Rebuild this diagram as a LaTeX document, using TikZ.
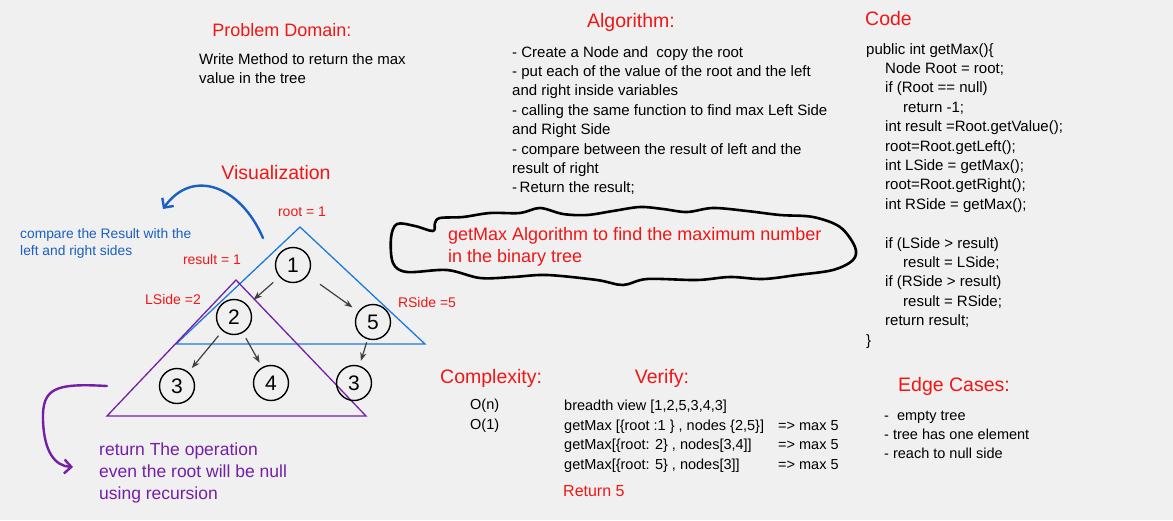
\documentclass[tikz,border=0pt]{standalone}
\usepackage{fontspec}
\setmainfont{Liberation Sans}
\usetikzlibrary{arrows.meta}
\definecolor{bgcol}{HTML}{F0F0F0}
\definecolor{hred}{HTML}{F01616}
\definecolor{hblue}{HTML}{1A5FC2}
\definecolor{triblue}{HTML}{1E7AD8}
\definecolor{hpurple}{HTML}{7420A6}
\definecolor{arrgray}{HTML}{404040}

\begin{document}
\begin{tikzpicture}[
  x=1pt, y=-1pt,
  >=Stealth,
  ttl/.style={text=hred, inner sep=0pt, font=\fontsize{19.5}{21}\selectfont},
  txt/.style={anchor=north west, align=left, inner sep=0pt,
              font=\fontsize{15}{19.4}\selectfont},
  lbl/.style={text=hred, inner sep=0pt, font=\fontsize{14}{16}\selectfont},
  nd/.style={draw, circle, line width=1.4pt, minimum size=35pt, inner sep=0pt,
             font=\fontsize{21}{23}\selectfont},
  arr/.style={->, arrgray, line width=1.2pt, shorten <=6pt, shorten >=5pt},
  tri/.style={line width=1.3pt},
  curl/.style={line width=2.4pt, line cap=round,
               -{Straight Barb[length=7pt,width=14pt]}}
]
\fill[bgcol] (0,0) rectangle (1173,520);
\useasboundingbox (0,0) rectangle (1173,520);

%% Titles
\node[ttl, font=\fontsize{18}{20}\selectfont] (pdttl) at (282,30) {Problem Domain:};
\node[ttl] (algttl) at (631,22)  {Algorithm:};
\node[ttl, anchor=west] (codettl) at (865,19) {Code};
\node[ttl] (visttl) at (276,173) {Visualization};
\node[ttl, anchor=west] (cpxttl) at (440,378) {Complexity:};
\node[ttl] (verttl) at (662,378) {Verify:};
\node[ttl] (edgttl) at (954,386) {Edge Cases:};

%% Text blocks
\node[txt] (pdtxt) at (199,53) {Write Method to return the max\\value in the tree};
\node[txt] (algtxt) at (512,46) {- Create a Node and\ \ copy the root\\
- put each of the value of the root and the left\\
and right inside variables\\
- calling the same function to find max Left Side\\
and Right Side\\
- compare between the result of left and the\\
result of right\\
-\,Return the result;};
\node[txt] (codetxt) at (866,43) {public int getMax()\{\\
\hspace*{19pt}Node Root = root;\\
\hspace*{19pt}if (Root == null)\\
\hspace*{37pt}return -1;\\
\hspace*{19pt}int result =Root.getValue();\\
\hspace*{19pt}root=Root.getLeft();\\
\hspace*{19pt}int LSide = getMax();\\
\hspace*{19pt}root=Root.getRight();\\
\hspace*{19pt}int RSide = getMax();\\[19.4pt]
\hspace*{19pt}if (LSide > result)\\
\hspace*{37pt}result = LSide;\\
\hspace*{19pt}if (RSide > result)\\
\hspace*{37pt}result = RSide;\\
\hspace*{19pt}return result;\\
\}};
\node[txt, font=\fontsize{14.5}{19.4}\selectfont] (cpxtxt) at (470,399) {O(n)\\O(1)};
\node[txt, font=\fontsize{14.5}{19.5}\selectfont] (vertxt) at (564,400) {breadth view [1,2,5,3,4,3]\\
\makebox[214pt][l]{getMax [\{root :1 \} , nodes \{2,5\}]}=> max 5\\
\makebox[214pt][l]{getMax[\{root: 2\} , nodes[3,4]]}=> max 5\\
\makebox[214pt][l]{getMax[\{root: 5\} , nodes[3]]}=> max 5};
\node[lbl, anchor=west, font=\fontsize{16}{18}\selectfont] (ret) at (563,491) {Return 5};
\node[txt, font=\fontsize{14.5}{19.2}\selectfont] (edgtxt) at (884,411)
  {-\ \ empty tree\\- tree has one element\\- reach to null side};

%% Scribble note
\draw[line width=2.6pt, line cap=round, line join=round]
  plot[smooth cycle, tension=0.55] coordinates {
  (433,231) (415,226) (397,224) (391,238) (393,263) (407,272) (447,270)
  (480,278) (513,277) (547,275) (597,280) (623,285) (647,279) (697,280)
  (730,277) (763,279) (797,275) (833,270) (853,260) (855,247) (840,227)
  (813,217) (780,215) (747,211) (713,208) (687,212) (663,209) (640,207)
  (613,211) (587,215) (563,214) (540,208) (520,213) (490,213) (463,217)
  (440,218) (435,223)};
\node[txt, text=hred, font=\fontsize{18}{22}\selectfont] (note) at (448,227)
  {getMax Algorithm to find the maximum number\\in the binary tree};

%% Triangles
\coordinate (bt) at (300,227);
\coordinate (bl) at (176,344);
\coordinate (br) at (425,344);
\coordinate (pt) at (236,280);
\coordinate (pl) at (107,416);
\coordinate (pr) at (366,416);
\draw[tri, triblue] (bt) -- (bl) -- (br) -- cycle;
\draw[tri, hpurple] (pt) -- (pl) -- (pr) -- cycle;

%% Tree nodes
\node[nd] (n1) at (293,265) {1};
\node[nd] (n2) at (234,317) {2};
\node[nd] (n5) at (373,322) {5};
\node[nd] (n3) at (177,386) {3};
\node[nd] (n4) at (271,383) {4};
\node[nd] (n6) at (354,383) {3};

%% Arrows
\draw[arr, shorten <=8pt, shorten >=8pt] (n1) -- (n2);
\draw[arr, shorten <=15pt, shorten >=7pt] (n1) -- (n5);
\draw[arr] (n2) -- (n3);
\draw[arr] (n2) -- (n4);
\draw[arr, shorten <=3pt] (n5) -- (n6);

%% Labels
\node[lbl] (rootlbl) at (302,212) {root = 1};
\node[lbl] (reslbl)  at (212,259) {result = 1};
\node[lbl] (llbl)    at (173,299) {LSide =2};
\node[lbl] (rlbl)    at (427,302) {RSide =5};
\node[txt, text=hblue, font=\fontsize{13.8}{17}\selectfont] (cmptxt) at (20,228)
  {compare the Result with the\\left and right sides};
\node[txt, text=hpurple, font=\fontsize{17.5}{22}\selectfont] (rettxt) at (99,443)
  {return The operation\\even the root will be null\\using recursion};

%% Curved arrows
\coordinate (bs) at (263,238);
\coordinate (be) at (163,209);
\draw[curl, hblue] (bs) .. controls (240,185) and (192,168) .. (be);
\coordinate (ps) at (107,386);
\coordinate (pe) at (73,467);
\draw[curl, hpurple] (ps) .. controls (55,383) and (42,388) .. (43,420)
  .. controls (44,452) and (55,466) .. (pe);
\end{tikzpicture}
\end{document}
